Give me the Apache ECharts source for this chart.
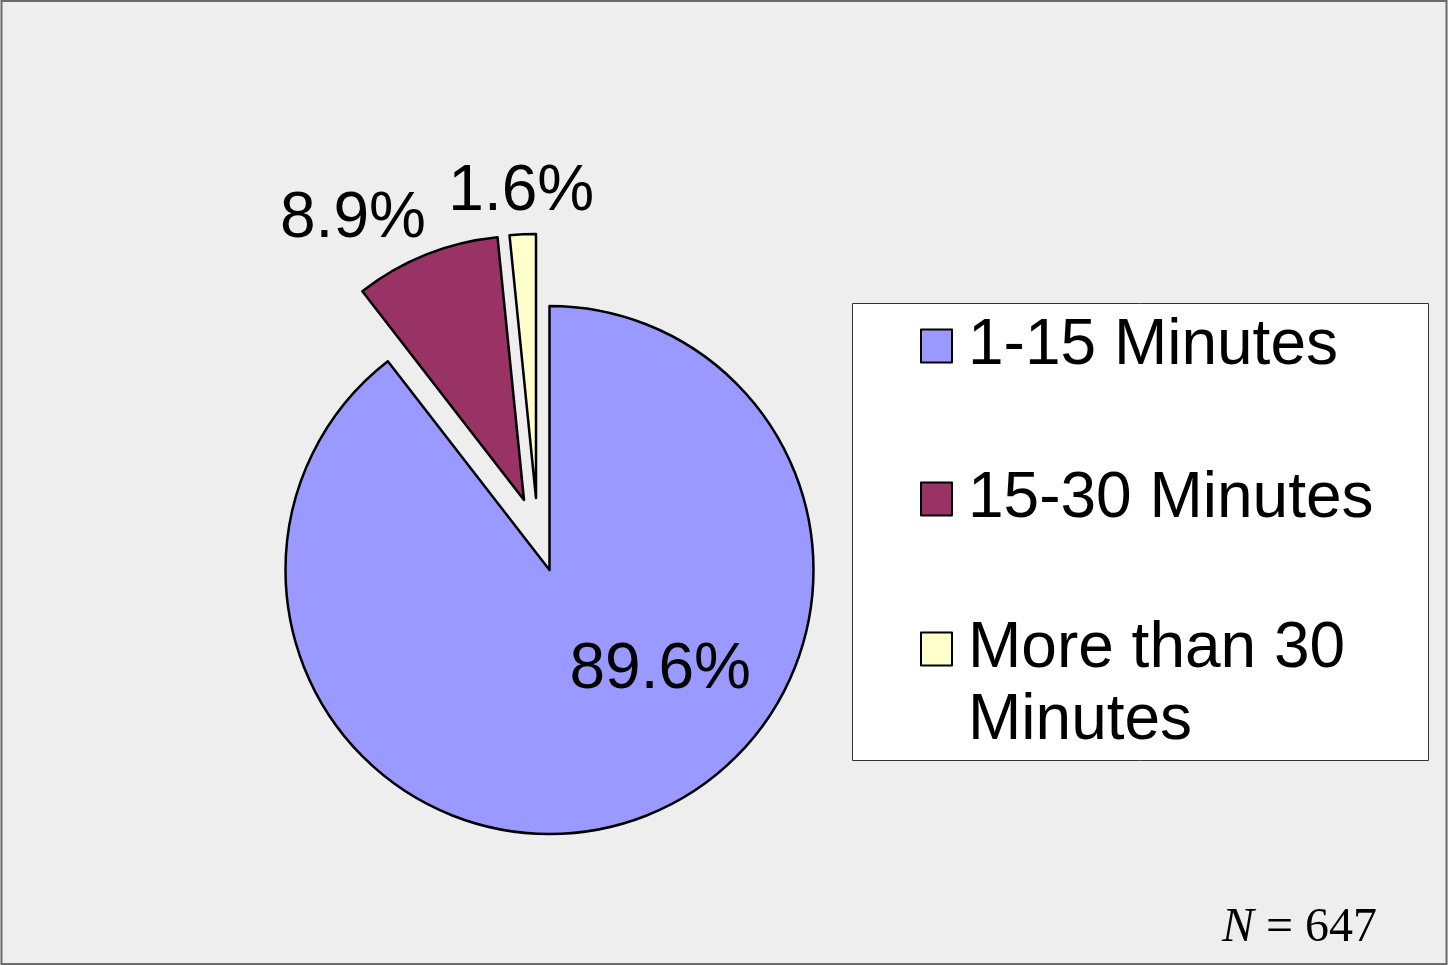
<!DOCTYPE html>
<html>
<head>
<meta charset="utf-8">
<script src="https://cdn.jsdelivr.net/npm/echarts@6/dist/echarts.min.js"></script>
<style>
  html, body { margin: 0; padding: 0; background: #ffffff; }
  #chart { width: 1448px; height: 965px; }
</style>
</head>
<body>
<div id="chart"></div>
<script>
// Commute time shares (percent of respondents)
const categories = ['1-15 Minutes', '15-30 Minutes', 'More than 30 Minutes'];
const shares = [89.6, 8.9, 1.6];
const sampleSize = 647;

const sliceColors = ['#9999FF', '#993366', '#FFFFCC'];
// each slice is pulled out from the pie by its own centre
const sliceCenters = [[549.5, 570], [524, 500], [536, 498]];
const labelOffsets = [[67, -27], [-121, -155], [-8, -171]];

const FONT = '"Liberation Sans", Arial, sans-serif';

const chart = echarts.init(document.getElementById('chart'), null, { renderer: 'canvas' });

// one pie series per slice; the other slices of that series are left invisible
const series = categories.map((_, k) => ({
  type: 'pie',
  center: sliceCenters[k],
  radius: 264,
  startAngle: 90,
  clockwise: true,
  silent: true,
  animation: false,
  avoidLabelOverlap: false,
  emphasis: { disabled: true },
  labelLine: { show: false },
  data: categories.map((name, j) => ({
    name,
    value: shares[j],
    itemStyle: j === k
      ? { color: sliceColors[j], borderColor: '#000000', borderWidth: 2.5 }
      : { color: 'rgba(0,0,0,0)', borderWidth: 0 },
    label: j === k
      ? {
          show: true,
          position: 'inside',
          offset: labelOffsets[k],
          formatter: '{c}%',
          color: '#000000',
          fontFamily: FONT,
          fontSize: 64
        }
      : { show: false }
  }))
}));

const legendIcon = (j) => ({
  name: categories[j],
  itemStyle: { color: sliceColors[j], borderColor: '#000000', borderWidth: 2 }
});

const legendText = {
  fontFamily: FONT,
  fontSize: 64,
  color: '#000000',
  lineHeight: 72,
  padding: [0, 0, 0, 11]
};

const option = {
  backgroundColor: '#eeeeee',
  graphic: [
    {
      type: 'rect',
      z: -10,
      shape: { x: 1.5, y: 1, width: 1445, height: 963 },
      style: { fill: 'rgba(0,0,0,0)', stroke: '#6b6b6b', lineWidth: 2 }
    },
    {
      type: 'rect',
      z: -5,
      shape: { x: 852.5, y: 303.5, width: 576, height: 457 },
      style: { fill: '#ffffff', stroke: '#333333', lineWidth: 1 }
    },
    {
      type: 'text',
      x: 1222,
      y: 928,
      style: {
        text: '{i|N} = ' + sampleSize,
        font: '48px "Liberation Serif", "Times New Roman", serif',
        fill: '#000000',
        verticalAlign: 'middle',
        rich: {
          i: { fontStyle: 'italic', fontFamily: '"Liberation Serif", serif', fontSize: 48 }
        }
      }
    }
  ],
  legend: [
    {
      orient: 'vertical',
      left: 920,
      top: 310,
      itemWidth: 31,
      itemHeight: 33,
      itemGap: 81,
      icon: 'rect',
      selectedMode: false,
      padding: 0,
      textStyle: legendText,
      data: [legendIcon(0), legendIcon(1)]
    },
    {
      orient: 'vertical',
      left: 920,
      top: 541,
      itemWidth: 31,
      itemHeight: 33,
      icon: 'rect',
      selectedMode: false,
      padding: 0,
      textStyle: legendText,
      // leading blank line keeps the marker level with the first line of the wrapped name
      formatter: (name) => '\n' + name.replace(' 30 ', ' 30\n'),
      data: [legendIcon(2)]
    }
  ],
  series
};

chart.setOption(option);
</script>
</body>
</html>
